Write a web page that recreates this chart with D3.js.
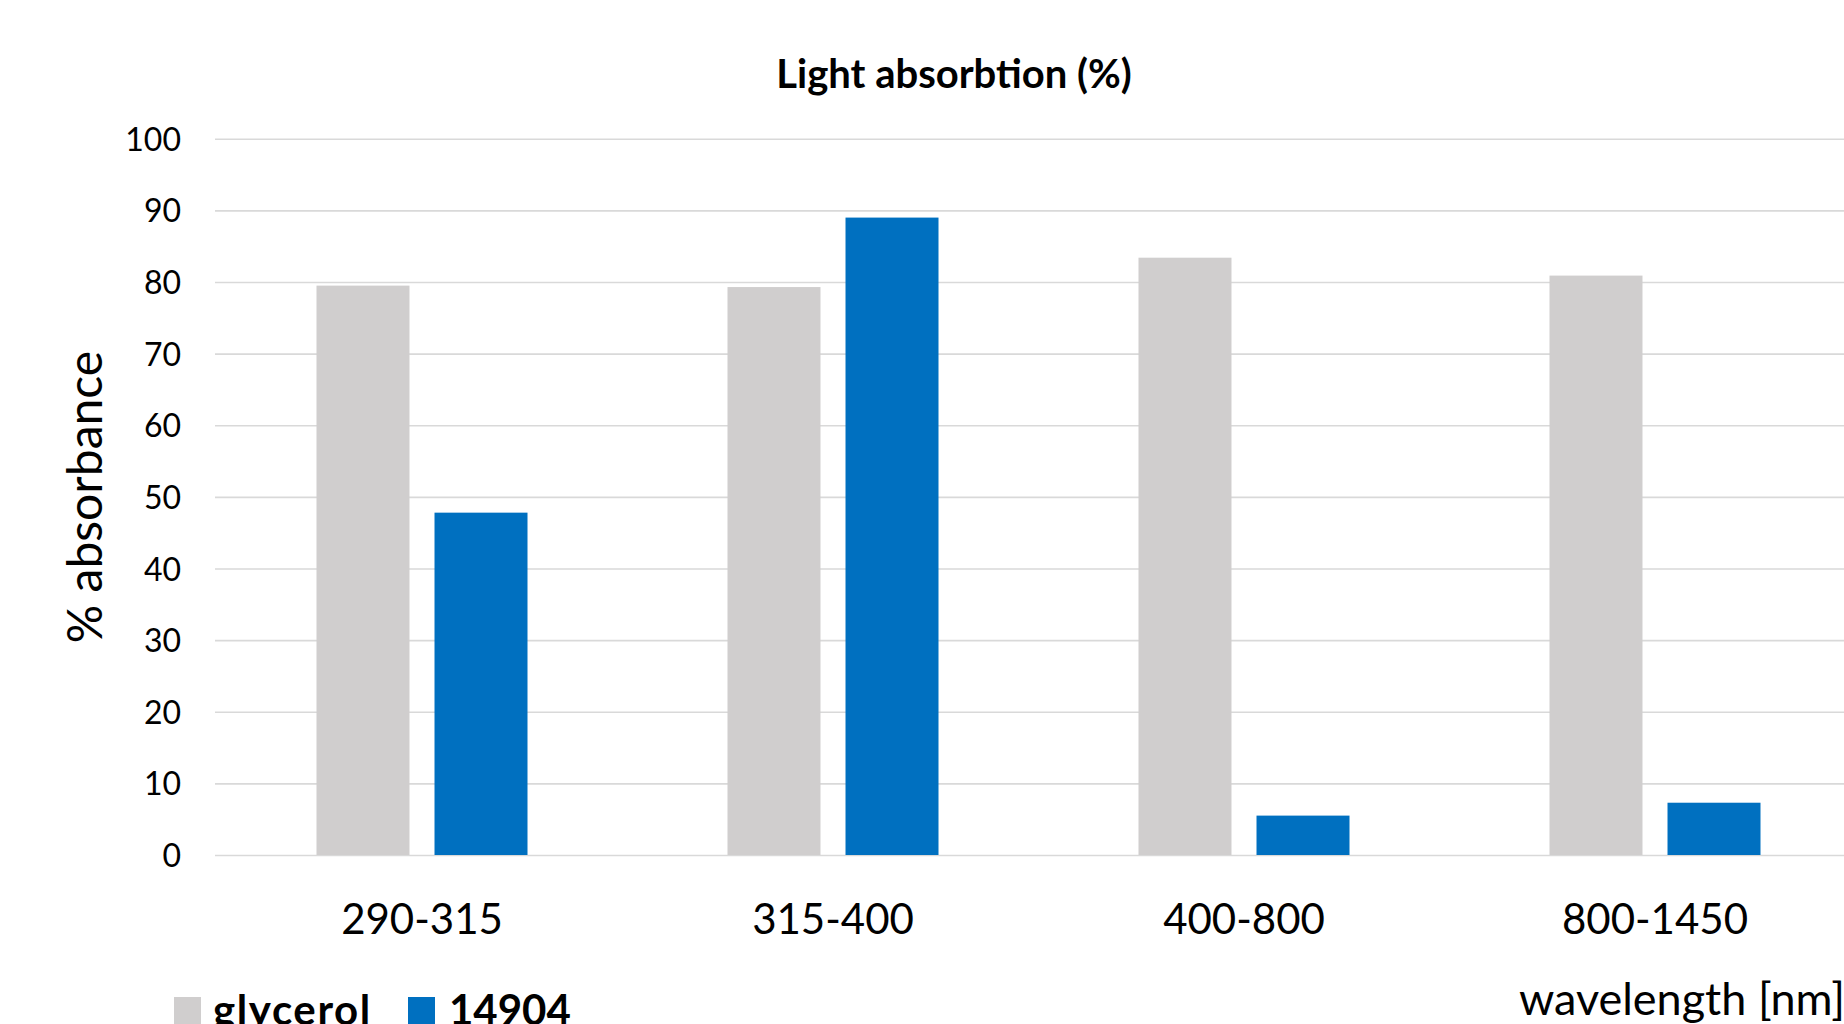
<!DOCTYPE html>
<html>
<head>
<meta charset="utf-8">
<script src="https://cdn.jsdelivr.net/npm/d3@7"></script>
<style>
  html, body { margin: 0; padding: 0; background: #ffffff; overflow: hidden; }
  svg { display: block; font-family: Lato, "Open Sans", sans-serif; }
</style>
</head>
<body>
<svg id="chart" width="1844" height="1024"></svg>
<script>
const categories = ["290-315", "315-400", "400-800", "800-1450"];
const seriesNames = ["glycerol", "14904"];
const glycerolValues = [79.5, 79.3, 83.4, 80.9];
const strainValues = [47.8, 89.0, 5.5, 7.3];
const yTicks = [0, 10, 20, 30, 40, 50, 60, 70, 80, 90, 100];
const seriesColors = ["#D0CECE", "#0070C0"];

const titleText = "Light absorbtion (%)";
const yTitle = "% absorbance";
const xTitle = "wavelength [nm]";

const svg = d3.select("#chart");
const W = 1844, H = 1024;
svg.append("rect").attr("width", W).attr("height", H).attr("fill", "#fff");

const gridLeft = 215;
const plotLeft = 216.5, plotRight = 1860.5, plotTop = 138.8, plotBottom = 855;

const x0 = d3.scaleBand().domain(categories).range([plotLeft, plotRight]).paddingInner(0).paddingOuter(0);
const x1 = d3.scaleBand().domain(seriesNames).range([-105.5, 105.5]).paddingInner(0.212).paddingOuter(0);
const y = d3.scaleLinear().domain([0, 100]).range([plotBottom, plotTop]);
const color = d3.scaleOrdinal().domain(seriesNames).range(seriesColors);

// gridlines
const grid = d3.axisLeft(y).tickValues(yTicks).tickSize(-(plotRight - gridLeft)).tickFormat("");
svg.append("g")
  .attr("transform", `translate(${gridLeft},0)`)
  .call(grid)
  .call(g => g.select(".domain").remove())
  .call(g => g.selectAll("line").attr("stroke", "#D9D9D9").attr("stroke-width", 1.6));

// bars
const data = categories.map((c, i) => ({ cat: c, vals: [
  { s: seriesNames[0], v: glycerolValues[i] },
  { s: seriesNames[1], v: strainValues[i] }
]}));

const groups = svg.append("g").selectAll("g").data(data).join("g")
  .attr("transform", d => `translate(${x0(d.cat) + x0.bandwidth() / 2},0)`);
groups.selectAll("rect").data(d => d.vals).join("rect")
  .attr("x", d => x1(d.s))
  .attr("width", x1.bandwidth())
  .attr("y", d => y(d.v))
  .attr("height", d => y(0) - y(d.v))
  .attr("fill", d => color(d.s));

// y axis labels
const yAxis = d3.axisLeft(y).tickValues(yTicks).tickSize(0).tickPadding(0);
svg.append("g")
  .attr("transform", `translate(181,0)`)
  .call(yAxis)
  .call(g => g.select(".domain").remove())
  .call(g => g.selectAll("text")
    .attr("font-family", "Lato, sans-serif")
    .attr("font-size", 32)
    .attr("fill", "#000")
    .attr("dy", "0.36em"));

// x axis labels
const xAxis = d3.axisBottom(x0).tickSize(0).tickPadding(0);
svg.append("g")
  .call(xAxis)
  .call(g => g.select(".domain").remove())
  .call(g => g.selectAll("text")
    .attr("font-family", "Lato, sans-serif")
    .attr("font-size", 42)
    .attr("fill", "#000")
    .attr("y", 934)
    .attr("dy", 0));

// title
svg.append("text")
  .attr("x", 954).attr("y", 88)
  .attr("text-anchor", "middle")
  .attr("font-weight", "bold")
  .attr("font-size", 40)
  .attr("fill", "#000")
  .text(titleText);

// y title
svg.append("text")
  .attr("transform", "translate(102,497) rotate(-90)")
  .attr("text-anchor", "middle")
  .attr("font-size", 48)
  .attr("fill", "#000")
  .text(yTitle);

// x title
svg.append("text")
  .attr("x", 1845).attr("y", 1015)
  .attr("text-anchor", "end")
  .attr("font-size", 45)
  .attr("fill", "#000")
  .text(xTitle);

// legend
const legendItems = [
  { s: seriesNames[0], sx: 174, tx: 213, ls: 1.6 },
  { s: seriesNames[1], sx: 408, tx: 449, ls: 0 }
];
const leg = svg.append("g").selectAll("g").data(legendItems).join("g");
leg.append("rect")
  .attr("x", d => d.sx).attr("y", 997)
  .attr("width", 27).attr("height", 27)
  .attr("fill", d => color(d.s));
leg.append("text")
  .attr("x", d => d.tx).attr("y", 1025)
  .attr("font-weight", "bold")
  .attr("font-size", 42)
  .attr("letter-spacing", d => d.ls)
  .attr("fill", "#000")
  .text(d => d.s);
</script>
</body>
</html>
